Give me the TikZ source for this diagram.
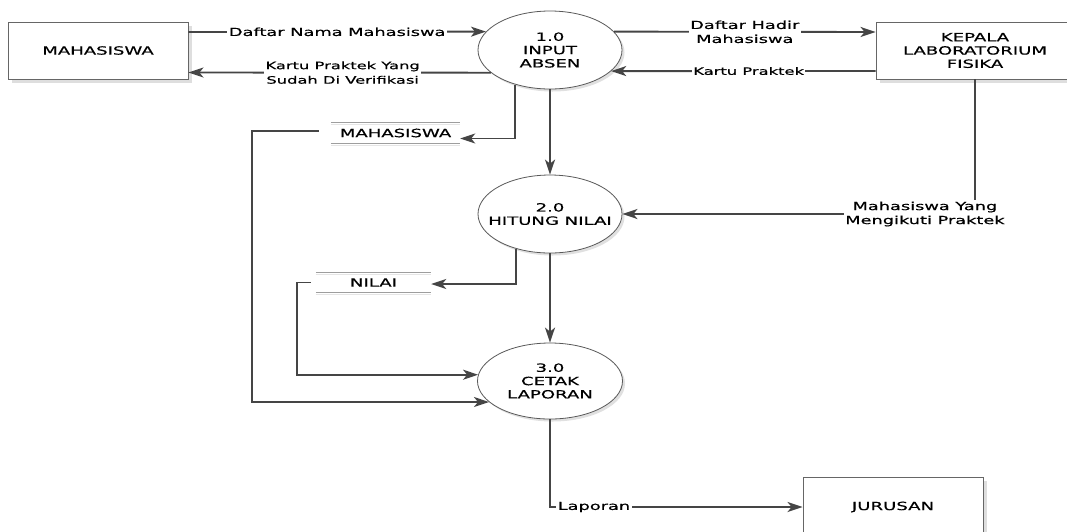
\documentclass[tikz,border=0pt]{standalone}
\usepackage{fontspec}
\setmainfont{DejaVu Sans}[FakeStretch=1.6,FakeBold=0.5]
\usetikzlibrary{shapes.geometric,arrows.meta,shadows}
\newcommand\dfdnodefont{\fontsize{11.3}{13.3}\selectfont}
\newcommand\dfdbig{\fontsize{11.1}{14}\selectfont}
\newcommand\dfdsmall{\fontsize{10.2}{14.5}\selectfont}
\begin{document}
\begin{tikzpicture}[x=1pt,y=-1pt,
  extbox/.style={rectangle, draw=black!60, line width=0.9pt, fill=white, inner sep=0pt,
    drop shadow={shadow xshift=3.5pt, shadow yshift=-3.5pt, fill=black!13, opacity=1},
    font=\dfdnodefont, align=center},
  proc/.style={ellipse, draw=black!65, line width=0.8pt, fill=white,
    minimum width=144pt, minimum height=78pt, inner xsep=-40pt, inner ysep=-6pt,
    drop shadow={shadow xshift=2.5pt, shadow yshift=-2.5pt, fill=black!12, opacity=1},
    font=\dfdnodefont, align=center},
  store/.style={inner sep=0pt, font=\dfdnodefont},
  storeline/.style={draw=black!38, line width=1.3pt},
  storeshadow/.style={draw=black!10, line width=1.2pt},
  flow/.style={draw=black!73, line width=1.9pt, -{Stealth[length=15pt,width=10pt,inset=4pt]}},
  lbl/.style={fill=white, inner sep=1.5pt, align=center}]
\useasboundingbox (0,0) rectangle (1067,531);
\clip (0,0) rectangle (1067,531);
\fill[white] (0,0) rectangle (1067,531);

% external entities
\node[extbox, minimum width=180pt, minimum height=57pt] (e1) at (98,50.5) {MAHASISWA};
\node[extbox, minimum width=198pt, minimum height=57pt] (e2) at (975,50.5) {KEPALA\\LABORATORIUM\\FISIKA};
\node[extbox, minimum width=180pt, minimum height=60pt] (e3) at (893,507) {JURUSAN};

% processes
\node[proc] (p1) at (550,50) {1.0\\INPUT\\ABSEN};
\node[proc] (p2) at (550,214) {2.0\\HITUNG NILAI};
\node[proc, minimum width=145pt, minimum height=76pt] (p3) at (550,381) {3.0\\CETAK\\LAPORAN};

% data stores
\node[store, minimum width=129pt, minimum height=20pt] (s1) at (395.5,133) {MAHASISWA};
\node[store, minimum width=115pt, minimum height=19pt] (s2) at (373.5,282.5) {NILAI};
\foreach \s in {s1,s2}{
  \draw[storeshadow] ([yshift=-2pt]\s.north west) -- ([yshift=-2pt]\s.north east);
  \draw[storeshadow] ([yshift=-2pt]\s.south west) -- ([yshift=-2pt]\s.south east);
  \draw[storeline] (\s.north west) -- (\s.north east);
  \draw[storeline] (\s.south west) -- (\s.south east);
}

% flows
\draw[flow] ([yshift=18.5pt]e1.east) -- node[lbl, font=\dfdbig, midway] {Daftar Nama Mahasiswa} (p1.164);
\draw[flow] (p1.201) -- node[lbl, font=\dfdsmall, pos=0.49] {Kartu Praktek Yang\\Sudah Di Verifikasi} ([yshift=-22pt]e1.east);
\draw[flow] (p1.16) -- node[lbl, font=\dfdbig, midway] {Daftar Hadir\\Mahasiswa} ([yshift=18.5pt]e2.west);
\draw[flow] ([yshift=-20.5pt]e2.west) -- node[lbl, font=\dfdsmall, pos=0.48] {Kartu Praktek} (p1.-19);
\draw[flow] (p1.225) |- ([yshift=-5.5pt]s1.east);
\draw[flow] (p1.south) -- (p2.north);
\draw[flow] (e2.south) |- node[lbl, font=\dfdbig, pos=0.571] {Mahasiswa Yang\\Mengikuti Praktek} (p2.east);
\draw[flow] (p2.226) |- ([yshift=-1.5pt]s2.east);
\draw[flow] (p2.south) -- (p3.north);
\draw[flow] ([xshift=-5pt]s2.west) -- ++(-14,0) |- (p3.175);
\draw[flow] ([xshift=-12pt,yshift=2pt]s1.west) -- ++(-67,0) |- (p3.199);
\draw[flow] (p3.south) |- node[lbl, font=\dfdbig, pos=0.587] {Laporan} (e3.west);
\end{tikzpicture}
\end{document}
